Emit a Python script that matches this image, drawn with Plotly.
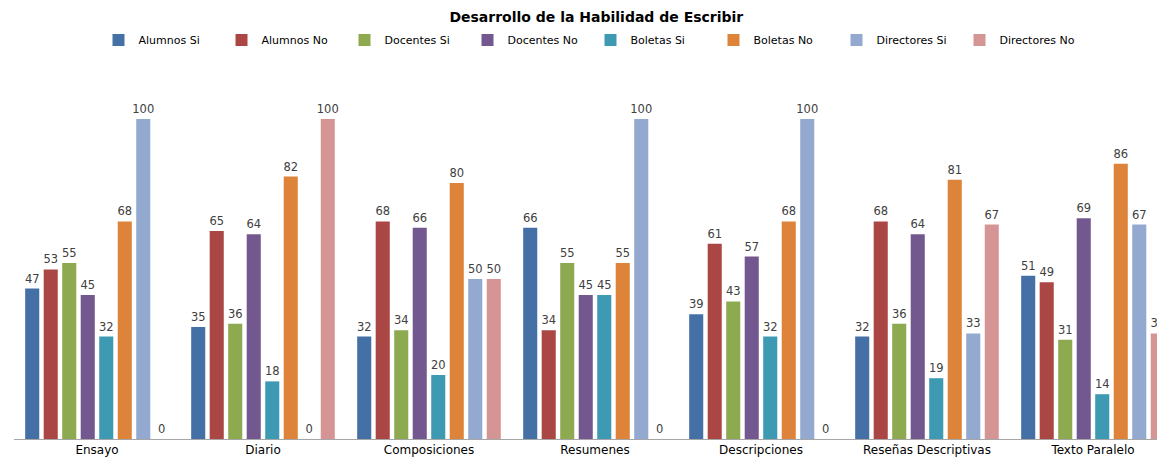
import plotly.graph_objects as go

categories = ["Ensayo", "Diario", "Composiciones", "Resumenes", "Descripciones",
              "Reseñas Descriptivas", "Texto Paralelo"]

alumnos_si = [47, 35, 32, 66, 39, 32, 51]
alumnos_no = [53, 65, 68, 34, 61, 68, 49]
docentes_si = [55, 36, 34, 55, 43, 36, 31]
docentes_no = [45, 64, 66, 45, 57, 64, 69]
boletas_si = [32, 18, 20, 45, 32, 19, 14]
boletas_no = [68, 82, 80, 55, 68, 81, 86]
directores_si = [100, 0, 50, 100, 100, 33, 67]
directores_no = [0, 100, 50, 0, 0, 67, 33]

series = [
    ("Alumnos Si", alumnos_si, "#4470A6"),
    ("Alumnos No", alumnos_no, "#AA4643"),
    ("Docentes Si", docentes_si, "#8EAA50"),
    ("Docentes No", docentes_no, "#73588F"),
    ("Boletas Si", boletas_si, "#3E9AB3"),
    ("Boletas No", boletas_no, "#DE843A"),
    ("Directores Si", directores_si, "#93A9D0"),
    ("Directores No", directores_no, "#D69595"),
]

fig = go.Figure()

for name, values, color in series:
    fig.add_trace(go.Bar(
        x=categories,
        y=values,
        name=name,
        marker=dict(color=color, line_width=0),
        text=values,
        textposition="outside",
        constraintext="none",
        textfont=dict(family="DejaVu Sans", size=11.5, color="#404040"),
        cliponaxis=True,
    ))

# page body has an 8px margin, so everything is shifted up/left by 8px;
# the plot area runs past the right edge, like the cropped original
fig.update_layout(
    width=1165,
    height=458,
    margin=dict(l=6, r=0, t=79, b=27),
    paper_bgcolor="white",
    plot_bgcolor="white",
    barmode="group",
    bargap=0.108,
    bargroupgap=0.24,
    title=dict(
        text="<b>Desarrollo de la Habilidad de Escribir</b>",
        xref="container", x=0.505, xanchor="center",
        yref="container", y=0.980, yanchor="middle",
        font=dict(family="DejaVu Sans", size=14, color="#000000"),
    ),
    legend=dict(
        orientation="h",
        xref="container", x=0.500, xanchor="center",
        yref="container", y=0.930, yanchor="middle",
        font=dict(family="DejaVu Sans", size=11, color="#000000"),
        itemwidth=30,
        entrywidth=78,
        traceorder="normal",
    ),
)

fig.update_xaxes(
    range=[-0.5, 6.482],
    showline=True, linecolor="#A6A6A6", linewidth=1,
    showgrid=False, ticks="",
    tickfont=dict(family="DejaVu Sans", size=12, color="#000000"),
)
fig.update_yaxes(
    range=[0, 110],
    visible=False,
    showgrid=False,
)

fig.write_html("out.html")
